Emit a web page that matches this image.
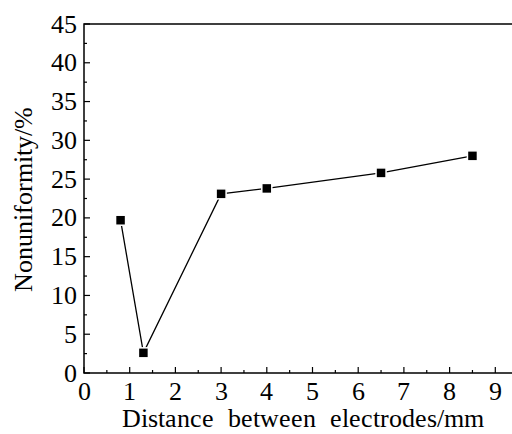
<!DOCTYPE html>
<html>
<head>
<meta charset="utf-8">
<script src="https://cdn.jsdelivr.net/npm/d3@7"></script>
<style>
  @font-face { font-family: 'ChartSerif'; src: local('Liberation Serif'), local('LiberationSerif'), local('LiberationSerif-Regular'); }
  body { margin: 0; background: #fff; }
  svg { display: block; }
  svg text { font-family: ChartSerif, 'Liberation Serif', serif; }
</style>
</head>
<body>
<div id="chart"></div>
<script>
// data
let distance = [0.8, 1.3, 3, 4, 6.5, 8.5]
let nonuniformity = [19.7, 2.6, 23.1, 23.8, 25.8, 28.0]
let xTicks = [0, 1, 2, 3, 4, 5, 6, 7, 8, 9]
let yTicks = [0, 5, 10, 15, 20, 25, 30, 35, 40, 45]

let width = 512
let height = 434
let margin = { top: 24, left: 84, right: -6, bottom: 61 }
let font = 'serif'

let svg = d3
  .select('#chart')
  .append('svg')
  .attr('width', width)
  .attr('height', height)

let xScale = d3
  .scaleLinear()
  .domain([0, 9.5])
  .range([margin.left, margin.left + 45.7 * 9.5])

let yScale = d3
  .scaleLinear()
  .domain([0, 45])
  .range([height - margin.bottom, margin.top])

let x0 = xScale(0)
let x1 = xScale(9.5)
let y0 = yScale(0)
let y1 = yScale(45)

// frame (no right spine, image is cropped)
svg
  .append('path')
  .attr('d', `M${x1},${y1}H${x0}V${y0}H${x1}`)
  .attr('fill', 'none')
  .attr('stroke', '#000')
  .attr('stroke-width', 1.5)

// x axis ticks (inward) and labels
let xMinor = d3.range(0.5, 9.5, 1)
svg
  .selectAll('.x-major')
  .data(xTicks)
  .enter()
  .append('line')
  .attr('x1', d => xScale(d))
  .attr('x2', d => xScale(d))
  .attr('y1', y0)
  .attr('y2', y0 - 6)
  .attr('stroke', '#000')
  .attr('stroke-width', 1.2)

svg
  .selectAll('.x-minor')
  .data(xMinor)
  .enter()
  .append('line')
  .attr('x1', d => xScale(d))
  .attr('x2', d => xScale(d))
  .attr('y1', y0)
  .attr('y2', y0 - 3)
  .attr('stroke', '#000')
  .attr('stroke-width', 1.2)

svg
  .selectAll('.x-label')
  .data(xTicks)
  .enter()
  .append('text')
  .text(d => d)
  .attr('x', d => xScale(d))
  .attr('y', y0 + 27)
  .attr('text-anchor', 'middle')
  .attr('font-family', font)
  .attr('font-size', 26)

// y axis ticks (inward) and labels
let yMinor = d3.range(2.5, 45, 5)
svg
  .selectAll('.y-major')
  .data(yTicks)
  .enter()
  .append('line')
  .attr('x1', x0)
  .attr('x2', x0 + 6)
  .attr('y1', d => yScale(d))
  .attr('y2', d => yScale(d))
  .attr('stroke', '#000')
  .attr('stroke-width', 1.2)

svg
  .selectAll('.y-minor')
  .data(yMinor)
  .enter()
  .append('line')
  .attr('x1', x0)
  .attr('x2', x0 + 3)
  .attr('y1', d => yScale(d))
  .attr('y2', d => yScale(d))
  .attr('stroke', '#000')
  .attr('stroke-width', 1.2)

svg
  .selectAll('.y-label')
  .data(yTicks)
  .enter()
  .append('text')
  .text(d => d)
  .attr('x', x0 - 7)
  .attr('y', d => yScale(d))
  .attr('dy', '0.33em')
  .attr('text-anchor', 'end')
  .attr('font-family', font)
  .attr('font-size', 26)

// axis titles
svg
  .append('text')
  .text('Distance between electrodes/mm')
  .attr('x', 303)
  .attr('y', 427)
  .attr('text-anchor', 'middle')
  .attr('font-family', font)
  .attr('font-size', 26)
  .attr('word-spacing', 7)

svg
  .append('text')
  .text('Nonuniformity/%')
  .attr('transform', `translate(32,199) rotate(-90)`)
  .attr('text-anchor', 'middle')
  .attr('font-family', font)
  .attr('font-size', 26)

// series
let points = distance.map((d, i) => ({ x: d, y: nonuniformity[i] }))

let line = d3
  .line()
  .x(d => xScale(d.x))
  .y(d => yScale(d.y))

svg
  .append('path')
  .datum(points)
  .attr('d', line)
  .attr('fill', 'none')
  .attr('stroke', '#000')
  .attr('stroke-width', 1.3)

svg
  .selectAll('.marker')
  .data(points)
  .enter()
  .append('rect')
  .attr('x', d => xScale(d.x) - 5)
  .attr('y', d => yScale(d.y) - 5)
  .attr('width', 10)
  .attr('height', 10)
  .attr('fill', '#000')
  .attr('stroke', '#fff')
  .attr('stroke-width', 1.5)
</script>
</body>
</html>
